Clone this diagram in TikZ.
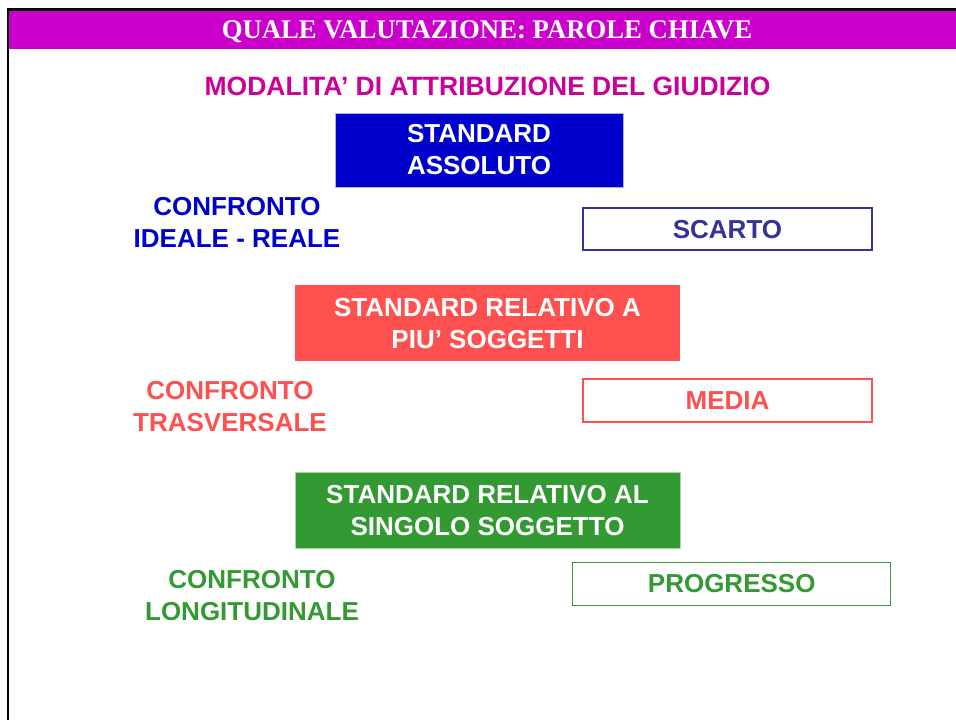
\documentclass[tikz,border=0pt]{standalone}
\usepackage{fontspec}
\setmainfont{Liberation Sans}
\newfontfamily\serifti{Liberation Serif}
\definecolor{barmag}{HTML}{CC00CC}
\definecolor{submag}{HTML}{CC0099}
\definecolor{sblue}{HTML}{0000CC}
\definecolor{sblueedge}{HTML}{B0B0E8}
\definecolor{scartoc}{HTML}{333399}
\definecolor{sred}{HTML}{FF5050}
\definecolor{sgreen}{HTML}{339933}
\definecolor{sgreenedge}{HTML}{A8D8A8}
\tikzset{
  txt/.style={font=\fontsize{26}{32}\selectfont\bfseries, align=center, inner sep=0pt},
  fillbox/.style={rectangle, inner sep=0pt, line width=1pt},
  outbox/.style={rectangle, inner sep=0pt, line width=1.3pt, fill=white},
}
\begin{document}
\begin{tikzpicture}[x=1pt,y=-1pt]
\useasboundingbox (0,0) rectangle (956,720);
% frame and title bar
\fill[barmag] (9.3,10.7) rectangle (956,49.3);
\fill[black] (6.7,8) rectangle (956,10.7);
\fill[black] (6.7,8) rectangle (9.3,720);
\node[inner sep=0pt, text=white] (title) at (487,31.5)
  {\scalebox{0.99}[1]{\serifti\fontsize{27}{32}\selectfont\bfseries QUALE VALUTAZIONE: PAROLE CHIAVE}};
\node[txt, text=submag, font=\fontsize{26.5}{32}\selectfont\bfseries] (sub) at (487.5,86) {MODALITA’ DI ATTRIBUZIONE DEL GIUDIZIO};
% standard assoluto
\node[fillbox, fill=sblue, draw=sblueedge, minimum width=288, minimum height=74] (sabox) at (479,150) {};
\node[txt, text=white] (sa) at (479,149.5) {STANDARD\\ASSOLUTO};
\node[txt, text=sblue] (cir) at (237,222.5) {CONFRONTO\\IDEALE - REALE};
\node[outbox, draw=scartoc, minimum width=289, minimum height=42] (scbox) at (727.5,229) {};
\node[txt, text=scartoc] (sc) at (727.5,229.5) {SCARTO};
% standard relativo a piu soggetti
\node[fillbox, fill=sred, minimum width=385, minimum height=76] (srbox) at (487.5,323) {};
\node[txt, text=white] (sr) at (487.5,324) {STANDARD RELATIVO A\\PIU’ SOGGETTI};
\node[txt, text=sred] (ctr) at (230,406.5) {CONFRONTO\\TRASVERSALE};
\node[outbox, draw=sred, minimum width=289, minimum height=43] (mebox) at (727.5,400.5) {};
\node[txt, text=sred] (me) at (727.5,401) {MEDIA};
% standard relativo al singolo soggetto
\node[fillbox, fill=sgreen, draw=sgreenedge, minimum width=385, minimum height=76] (sgbox) at (487.5,510) {};
\node[txt, text=white] (sg) at (487.5,510.3) {STANDARD RELATIVO AL\\SINGOLO SOGGETTO};
\node[txt, text=sgreen] (clo) at (252,595.5) {CONFRONTO\\LONGITUDINALE};
\node[outbox, draw=sgreen, minimum width=318, minimum height=43] (prbox) at (731.7,583.7) {};
\node[txt, text=sgreen] (pr) at (731.7,584) {PROGRESSO};
\end{tikzpicture}
\end{document}
